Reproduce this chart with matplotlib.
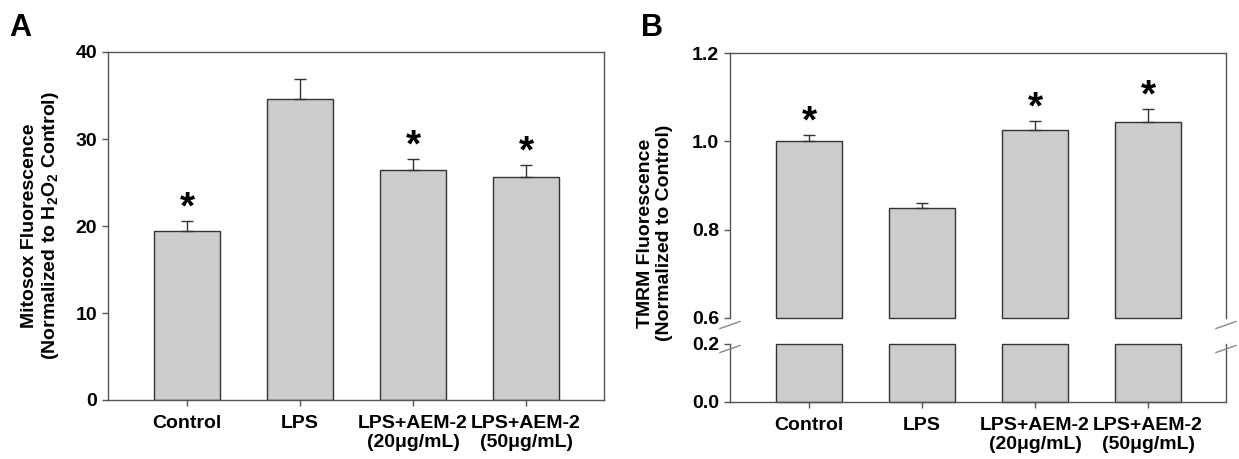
import numpy as np
import matplotlib
matplotlib.use('Agg')
import matplotlib.pyplot as plt

plt.rcParams['font.family'] = ['Liberation Sans', 'DejaVu Sans']
plt.rcParams['font.weight'] = 'bold'
plt.rcParams['mathtext.fontset'] = 'custom'
plt.rcParams['mathtext.rm'] = 'Liberation Sans:bold'
plt.rcParams['mathtext.bf'] = 'Liberation Sans:bold'
plt.rcParams['mathtext.default'] = 'bf'

# data
groups = ['Control', 'LPS', 'LPS+AEM-2\n(20\u03bcg/mL)', 'LPS+AEM-2\n(50\u03bcg/mL)']
mitosox = [19.45, 34.65, 26.45, 25.65]
mitosox_err = [1.1, 2.25, 1.25, 1.35]
tmrm = [1.0, 0.848, 1.026, 1.043]
tmrm_err = [0.015, 0.013, 0.021, 0.030]
signif = [True, False, True, True]

bar_col = '#cccccc'
line_col = '#333333'
frame_col = '#555555'
fs = 14
x = np.arange(len(groups))

fig = plt.figure(figsize=(12.39, 4.59), dpi=100)


def px(l, r, t, b):
    return [l / 1239, 1 - b / 459, (r - l) / 1239, (b - t) / 459]


def style(ax):
    for s in ax.spines.values():
        s.set_color(frame_col)
        s.set_linewidth(1.0)
    ax.tick_params(axis='both', direction='out', length=4, width=1, color=frame_col,
                   labelsize=fs, pad=4)
    ax.tick_params(axis='x', pad=7)
    ax.set_xlim(-0.70, 3.69)


def stars(ax, vals, errs, off):
    for i in range(len(vals)):
        if signif[i]:
            ax.annotate('*', xy=(x[i], vals[i] + errs[i]), xytext=(0, off),
                        textcoords='offset points', ha='center', va='center',
                        fontsize=28, fontweight='bold')


# ---- panel A
axA = fig.add_axes(px(108, 604, 52, 400))
axA.bar(x, mitosox, width=0.59, color=bar_col, edgecolor=line_col, linewidth=1.0, zorder=2)
axA.errorbar(x, mitosox, yerr=[np.zeros(4), mitosox_err], fmt='none', ecolor=line_col,
             elinewidth=1.0, capsize=4, capthick=1.0, zorder=3)
axA.set_ylim(0, 40)
axA.set_yticks([0, 10, 20, 30, 40])
axA.set_xticks(x)
axA.set_xticklabels(groups, fontsize=fs, linespacing=1.12)
style(axA)
axA.set_ylabel('Mitosox Fluorescence\n(Normalized to H$_2$O$_2$ Control)', fontsize=fs,
               fontweight='bold', labelpad=10, linespacing=1.15)
stars(axA, mitosox, mitosox_err, 9)
fig.text(9 / 1239, 1 - 36 / 459, 'A', fontsize=22, fontweight='bold')

# ---- panel B (broken axis)
axT = fig.add_axes(px(730, 1226, 53, 318))
axB = fig.add_axes(px(730, 1226, 344, 402))

tm = np.array(tmrm)
axT.bar(x, tm - 0.6, bottom=0.6, width=0.59, color=bar_col, edgecolor=line_col,
        linewidth=1.0, zorder=2, clip_on=False)
axT.errorbar(x, tm, yerr=[np.zeros(4), tmrm_err], fmt='none', ecolor=line_col,
             elinewidth=1.0, capsize=4, capthick=1.0, zorder=3)
axT.set_ylim(0.6, 1.2)
axT.set_yticks([0.6, 0.8, 1.0, 1.2])
axT.set_yticklabels(['0.6', '0.8', '1.0', '1.2'])
axT.spines['bottom'].set_visible(False)
style(axT)
axT.set_xticks([])
stars(axT, tmrm, tmrm_err, 9)

axB.bar(x, np.minimum(tm, 0.2), width=0.59, color=bar_col, edgecolor=line_col,
        linewidth=1.0, zorder=2, clip_on=False)
axB.set_ylim(0, 0.2)
axB.set_yticks([0.0, 0.2])
axB.set_yticklabels(['0.0', '0.2'])
axB.spines['top'].set_visible(False)
style(axB)
axB.set_xticks(x)
axB.set_xticklabels(groups, fontsize=fs, linespacing=1.12)

# break marks
for xs in (730, 1226):
    for ys in (325, 349):
        fig.add_artist(plt.Line2D([(xs - 10) / 1239, (xs + 10) / 1239],
                                  [1 - (ys + 3.5) / 459, 1 - (ys - 3.5) / 459],
                                  color='#888888', linewidth=1.0))

fig.text(655 / 1239, 1 - 233 / 459, 'TMRM Fluorescence\n(Normalized to Control)',
         rotation=90, ha='center', va='center', fontsize=fs, fontweight='bold',
         linespacing=1.15)
fig.text(641 / 1239, 1 - 36 / 459, 'B', fontsize=22, fontweight='bold')

fig.savefig('out.png', dpi=100)
